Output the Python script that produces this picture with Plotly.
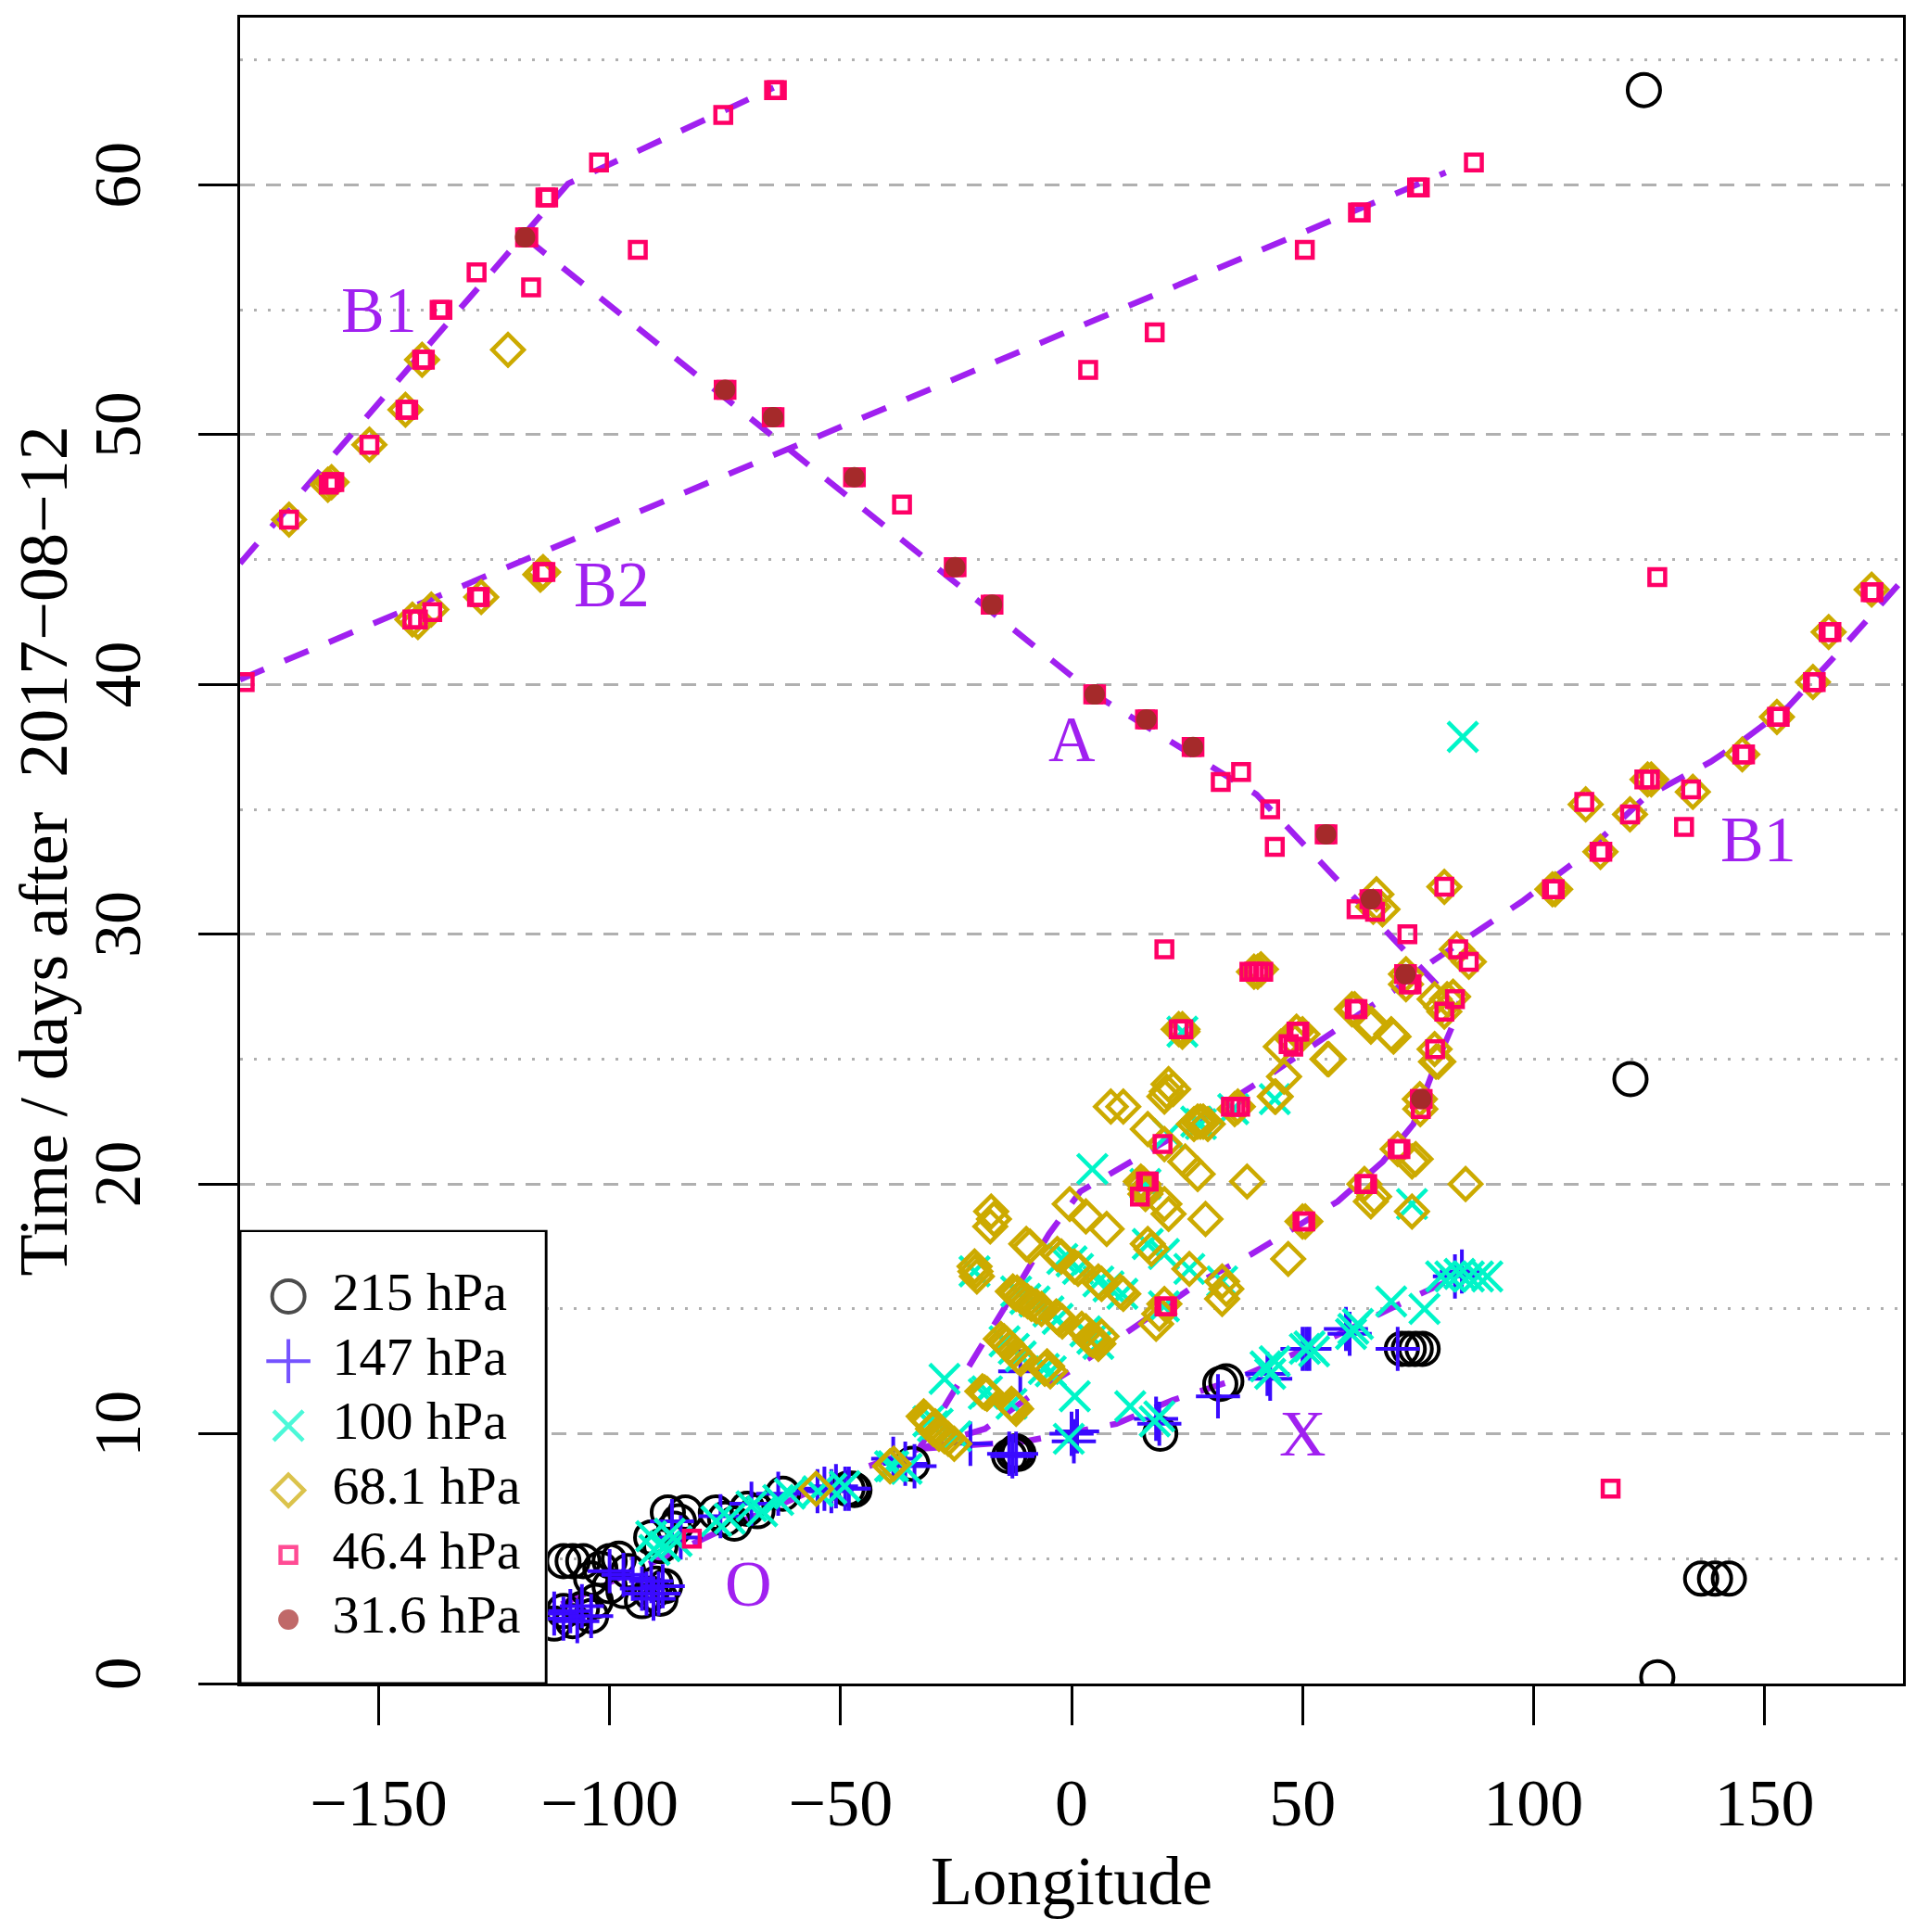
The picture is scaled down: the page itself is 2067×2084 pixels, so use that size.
import plotly.graph_objects as go

# ---------------- data (longitude, days after 2017-08-12) ----------------
pts_215 = [(-112,2.4),(-110,2.9),(-108,2.5),(-106,3.0),(-104,2.7),(-103,3.3),
           (-110,4.9),(-108,4.9),(-105.7,4.9),(-104,4.2),(-102,4.6),(-100,4.9),(-98,5.0),(-96,4.5),
           (-100,3.9),(-97,3.7),(-93,3.3),(-91,3.6),(-89,3.4),(-88,3.9),(-90,4.0),
           (-91,5.85),(-89,5.5),(-87.4,6.85),(-85,6.5),(-83.6,6.85),(-86,6.2),
           (-77,6.85),(-75,6.6),(-73,6.4),(-70.2,7.0),(-68,6.9),(-62.5,7.6),
           (-48.5,7.8),(-47.5,7.8),(-47,7.75),(-34.5,8.8),
           (-13.5,9.1),(-12.5,9.2),(-11.5,9.2),(-12,9.3),
           (19.2,10.0),(32.2,12.0),(33.5,12.1),
           (71.5,13.4),(73,13.4),(74.5,13.4),(76,13.4),
           (121,24.2),(123.9,63.8),(126.8,0.25),(136.3,4.2),(139.3,4.2),(142.3,4.2)]

pts_147 = [(-112,2.8),(-110,2.6),(-108.5,2.9),(-107,2.5),(-106,3.1),(-104,2.7),
           (-100,4.5),(-97,4.35),(-95,4.2),
           (-93,3.8),(-92,3.6),(-90.5,3.4),(-89.4,3.6),(-88.5,3.9),(-91,4.1),
           (-86.5,6.5),(-84.6,5.85),(-76,6.7),(-69.3,7.2),(-63.5,7.6),
           (-55,7.7),(-53.5,7.8),(-52,7.7),(-51,7.9),(-49,7.8),(-48.2,7.8),
           (-38.6,9.0),(-36,8.8),(-34,8.7),(-21.9,9.6),(-11.1,12.5),
           (-13.5,9.2),(-12.8,9.1),(-12,9.2),(0,10.0),(0.5,9.7),(1.2,10.1),
           (18.3,10.6),(19,10.4),(31.7,11.5),(42.4,12.4),(43,12.2),
           (50,13.4),(50.8,13.4),(51.5,13.4),(59.4,14.2),(60.2,14.0),
           (70.6,13.4),(83,16.3),(84.5,16.5)]

pts_100 = [(-90.3,5.35),(-88,5.5),(-85.5,5.7),(-87,6.0),(-91,5.9),
           (-76.9,6.5),(-74,6.6),(-69.3,7.1),(-67,6.9),(-63.5,7.35),(-61,7.6),
           (-54.9,7.7),(-52,7.8),(-49.1,7.9),(-38.6,8.7),(-35.7,8.6),
           (-27.5,12.2),(-0.6,9.8),(0.7,11.5),(12.7,11.1),(18,10.5),(19,10.7),
           (4.5,20.6),(42,12.7),(43,12.4),(44,12.9),(50.5,13.4),(51.5,13.5),(52.5,13.3),
           (60.5,14.0),(61,14.2),(62,14.4),(69.2,15.3),(76.4,15.0),
           (80,16.3),(82,16.3),(84,16.4),(86,16.3),(88,16.3),(90,16.3),
           (44,23.4),(73.7,19.2),(84.7,37.9),
           (-39.3,8.7),(-31,10.5),(-29,10.4),(-25,9.9),(-18.3,11.7),(-13,11.2),
           (-12.5,13.4),(-11,13.1),(-6,12.6),(-21,16.5),(-12,15.7),(-8,15.3),
           (-3,14.6),(3,14.1),(5.8,13.6),(-2,17.0),(1.4,16.6),(5.8,16.1),(11,15.6),
           (16.5,17.6),(20,17.2),(25.5,16.6),(32.6,16.1),(20,15.1),(16,20.0),
           (21,22),(24,26.1),(27,22.5),(35,23.0),
           (-14.5,13.7),(-10,15.4),(-5,14.9),(0,16.9),(8,15.9),(-30,10.3),(-19,11.6),
           (28,22.4),(-4.5,12.5),(4.5,13.8)]

pts_68 = [(-55.3,7.8),(-39.3,8.7),(-38.5,8.8),
          (-32.0,10.7),(-31.0,10.5),(-30.0,10.2),(-28.7,10.0),(-26.7,9.8),(-25.4,9.6),
          (-31.5,10.6),(-29.5,10.3),(-27.5,9.9),
          (-19.3,11.7),(-18.3,11.6),(-18.8,11.65),(-13.0,11.2),(-12.0,11.0),(-12.5,11.1),
          (-15.3,13.8),(-14.6,13.7),(-14.0,13.6),(-13.3,13.45),(-12.5,13.3),(-11.6,13.1),
          (-11.0,13.0),(-5.8,12.6),(-5.3,12.7),(-4.6,12.5),
          (-17.4,18.9),(-16.8,18.6),(-17.6,18.3),(-21.0,16.7),(-20.8,16.5),(-20.5,16.3),
          (-9.8,17.6),(-9.0,17.5),(-3.1,17.2),(-2.2,17.1),(1.4,16.6),(0.6,16.7),
          (5.8,16.1),(6.5,16.0),(11.2,15.6),(10.5,15.7),
          (-12.7,15.7),(-12.0,15.6),(-11.8,15.65),(-11.0,15.5),(-10.3,15.4),(-9.5,15.3),
          (-8.7,15.2),(-7.6,15.1),(-6.5,15.0),(-3.3,14.7),(-2.7,14.6),(-2.0,14.5),
          (3.1,14.1),(2.2,14.2),(4.0,13.8),(4.6,13.75),(5.4,13.7),(5.8,13.6),(6.5,13.9),
          (-0.4,19.2),(3.1,18.7),(7.6,18.2),
          (15.6,20.0),(15.0,20.1),(16.0,19.6),(16.0,19.8),(20.1,19.2),(21.0,18.8),(29.0,18.6),
          (16.5,17.6),(17.3,17.4),(25.5,16.6),(32.6,16.1),(32.6,15.4),(33.5,15.8),
          (20.1,15.2),(18.3,14.4),(19.0,14.8),(8.5,23.1),(11.2,23.1),
          (21.0,24.0),(20.1,23.5),(20.6,23.7),(22.0,23.8),(16.5,22.2),(20.1,21.6),
          (27.3,22.5),(27.9,22.5),(28.5,22.5),(29.5,22.4),(26.5,22.4),(24.6,20.9),(27.3,20.4),
          (38.0,20.1),(35.3,23.0),(36.0,23.1),(46.9,17.0),
          (44.2,23.5),(46.0,24.3),(44.0,23.5),(47.8,25.8),(48.7,26.1),(50.0,26.0),(45.3,25.5),
          (55.4,25.0),(55.7,25.0),(64.8,26.3),(69.2,26.0),(65.0,26.4),(69.7,25.9),
          (50.0,18.5),(50.6,18.5),(63.4,20.0),(64.8,19.3),(65.5,19.5),(73.7,18.9),
          (70.6,21.4),(73.7,20.9),(74.5,21.0),(75.4,23.4),(75.5,23.0),
          (78.6,25.4),(78.9,24.9),(79.4,24.9),(85.3,20.0),
          (80.0,27.1),(80.7,26.9),(81.3,27.4),(82.6,27.5),(78.6,27.4),
          (61.3,27.0),(60.7,27.0),(23.2,26.2),(24.0,26.1),(24.0,26.2),
          (39.5,28.5),(40.3,28.5),(41.0,28.6),(65.3,31.1),(66.0,31.6),(67.3,31.0),
          (72.4,28.4),(72.4,28.0),(80.7,31.9),(83.4,29.4),(86.0,28.9),
          (104.1,31.8),(104.7,31.8),(114.5,33.3),(120.9,34.8),(111.3,35.2),(124.7,36.2),
          (125.5,36.2),(134.5,35.7),(145.2,37.2),(152.7,38.7),(160.5,40.1),(163.9,42.1),
          (173.2,43.8),(-122.0,53.4),
          (-140.6,53.0),(-144.2,51.0),(-152.0,49.6),(-160.2,48.1),(-161.0,48.0),(-169.4,46.6),
          (-142.7,42.6),(-141.5,42.5),(-138.6,43.0),(-127.8,43.5),(-114.4,44.5),(-115.0,44.4)]

pts_46 = [(-169.4,46.6),(-160.2,48.1),(-159.6,48.1),(-160.8,48.0),(-152,49.6),
          (-144.2,51.0),(-143.6,51.0),(-140.6,53.0),(-140,53.0),(-136.8,55.0),(-136.2,55.0),
          (-128.8,56.5),(-117,55.9),(-118.3,57.9),(-117.6,57.9),(-113.9,59.5),(-113.3,59.5),
          (-102.3,60.9),(-93.9,57.4),(-75.4,62.8),(-64.4,63.8),(-63.8,63.8),
          (-75.3,51.8),(-74.7,51.8),(-64.9,50.7),(-64.3,50.7),(-47.3,48.3),(-46.7,48.3),
          (-25.5,44.7),(-24.9,44.7),(-17.5,43.2),(-16.9,43.2),(4.7,39.6),(5.3,39.6),
          (15.9,38.6),(16.5,38.6),(26,37.5),(26.6,37.5),(54.8,34.0),(55.4,34.0),
          (64.5,31.4),(65.1,31.4),(72,28.4),(72.6,28.4),(75.4,23.4),(76,23.4),
          (-142.7,42.6),(-141.5,42.6),(-138.4,42.9),(-128.1,43.5),(-128.7,43.5),
          (-113.9,44.5),(-114.5,44.5),(-179,40.1),
          (87.1,60.9),(74.8,59.9),(75.4,59.9),(62,58.9),(62.6,58.9),(50.5,57.4),
          (18,54.1),(3.6,52.6),(-36.7,47.2),(126.8,44.3),(116.7,7.8),
          (32.3,36.1),(36.7,36.5),(43,35.0),(44,33.5),(61.7,31.0),(65.7,30.9),(72.7,30.0),
          (20.1,29.4),(38.5,28.5),(39.5,28.5),(40.5,28.5),(41.5,28.5),(61.3,27.0),(61.9,27.0),
          (80.7,31.9),(83.7,29.4),(86,28.9),(73,28.0),(73.6,28.0),(83,27.4),(80.7,26.9),
          (78.7,25.4),(48.7,26.1),(49.3,26.1),(48,25.5),(47,25.6),(34.5,23.1),(35.5,23.1),
          (36.5,23.1),(75.6,23.0),(23.2,26.2),(24.2,26.2),(19.7,21.6),(16.1,20.1),(16.7,20.1),
          (14.8,19.5),(20.1,15.1),(20.7,15.1),(50,18.5),(50.6,18.5),(63.4,20.0),(64,20.0),
          (70.6,21.4),(71.2,21.4),(-82.2,5.8),
          (104,31.8),(104.6,31.8),(114.3,33.3),(114.9,33.3),(120.9,34.8),(111,35.3),
          (124,36.2),(125.2,36.2),(132.6,34.3),(134.1,35.8),(145.2,37.2),(145.8,37.2),
          (152.7,38.7),(153.3,38.7),(160.5,40.1),(161.1,40.1),(163.9,42.1),(164.5,42.1),
          (173,43.7),(173.6,43.7)]

pts_31 = [(-118.3,57.9),(-75,51.8),(-64.6,50.7),(-47,48.3),(-25.2,44.7),(-17.2,43.2),
          (5,39.6),(16.2,38.6),(26.3,37.5),(55.1,34.0),(64.8,31.4),(72.3,28.4),(75.7,23.4)]

# fitted tracks (dashed purple)
track_B1_west = [(-180,44.85),(-109,60.05),(-64.5,63.9)]
track_B2 = [(-180,40.2),(81,60.5)]
track_A = [(-118.3,57.9),(5,39.6),(40,35.6),(79.5,27.9)]
track_O = [(-120,2.4),(-104,3.7),(-75,6.2),(-44,8.7),(-33,9.4)]
track_X = [(-33,9.4),(-10,9.7),(9.7,10.4),(21.9,11.35),(34.4,12.1),(55.8,13.8),(75.5,15.6),(86,16.5)]
track_Q = [(-33,9.4),(-18.7,10.2),(-8.3,11.6),(0.4,12.6),(10.7,13.9),(28,16.1),(39,17.2),
           (57.6,19.3),(67.4,20.9),(74,22.4),(78,24.4),(82.6,26.4),(84,27.3)]
track_B1_east = [(-33,9.4),(-23.3,12.3),(-17.3,14.2),(-10.7,16.2),(-4.9,18),(1.9,19.7),(13,20.9),
                 (23,22),(40.7,24.1),(60,26.5),(68.7,27.6),(78,28.9),(88.7,30.2),(97.4,31.3),
                 (109.7,33),(124.3,35.5),(138.3,36.9),(145.6,37.8),(155.1,39.1),(164.6,41),(180,44.2)]

labels = [("B1", -150, 55.0), ("B2", -99.6, 44.0), ("A", 0, 37.8),
          ("B1", 148.7, 33.8), ("X", 50, 10.0), ("O", -70, 4.0)]

levels = ["215 hPa", "147 hPa", "100 hPa", "68.1 hPa", "46.4 hPa", "31.6 hPa"]
x_ticks = [-150, -100, -50, 0, 50, 100, 150]
y_ticks = [0, 10, 20, 30, 40, 50, 60]
y_minor = [5, 15, 25, 35, 45, 55, 65]

# ---------------- styles ----------------
FONT = "Liberation Serif"
PURPLE = "#A020F0"
styles = [
    dict(symbol="circle-open", color="black", size=35, lw=4),
    dict(symbol="cross-thin-open", color="#3A0AFF", size=34, lw=4),
    dict(symbol="x-thin-open", color="#00F5C8", size=32, lw=4.5),
    dict(symbol="diamond-open", color="#CCAA00", size=26, lw=4.5),
    dict(symbol="square-open", color="#FF0066", size=17, lw=4.5),
    dict(symbol="circle", color="#A52A2A", size=22, lw=0),
]
series = [pts_215, pts_147, pts_100, pts_68, pts_46, pts_31]

fig = go.Figure()

for tr in [track_B1_west, track_B2, track_A, track_O, track_X, track_Q, track_B1_east]:
    fig.add_trace(go.Scatter(x=[p[0] for p in tr], y=[p[1] for p in tr], mode="lines",
                             line=dict(color=PURPLE, width=6.5, dash="28px,24px"),
                             showlegend=False, hoverinfo="skip"))

for pts, st, name in zip(series, styles, levels):
    fig.add_trace(go.Scatter(
        x=[p[0] for p in pts], y=[p[1] for p in pts], mode="markers", name=name,
        showlegend=False,
        marker=dict(symbol=st["symbol"], size=st["size"], color=st["color"],
                    line=dict(color=st["color"], width=st["lw"]))))

# legend drawn in an inset subplot
fig.add_trace(go.Scatter(
    x=[0.157] * len(levels), y=list(range(len(levels))), mode="markers",
    xaxis="x2", yaxis="y2", showlegend=False, hoverinfo="skip",
    marker=dict(symbol=[s["symbol"] for s in styles], size=[s["size"] for s in styles],
                color=[s["color"] for s in styles],
                line=dict(color=[s["color"] for s in styles], width=[s["lw"] for s in styles]))))
fig.add_trace(go.Scatter(
    x=[0.30] * len(levels), y=list(range(len(levels))), mode="text", text=levels,
    textposition="middle right", xaxis="x2", yaxis="y2", showlegend=False, hoverinfo="skip",
    textfont=dict(family=FONT, size=58, color="black")))

fig.add_shape(type="rect", xref="x2", yref="y2", x0=0.0, x1=0.995, y0=5.99, y1=-1.02,
              fillcolor="white", line=dict(color="black", width=3), layer="below")

for txt, lx, ly in labels:
    fig.add_annotation(x=lx, y=ly, xref="x", yref="y", text=txt, showarrow=False,
                       font=dict(family=FONT, size=70, color=PURPLE))

fig.add_annotation(x=0.5, y=-0.1188, xref="paper", yref="paper", text="Longitude",
                   showarrow=False, font=dict(family=FONT, size=74, color="black"),
                   xanchor="center", yanchor="middle")
fig.add_annotation(x=-0.1182, y=0.5, xref="paper", yref="paper",
                   text="Time / days after  2017\u221208\u221212", textangle=-90,
                   showarrow=False, font=dict(family=FONT, size=74, color="black"),
                   xanchor="center", yanchor="middle")

grid_col = "#B0B0B0"
fig.update_layout(
    width=2067, height=2084,
    margin=dict(l=259, r=14, t=19, b=268),
    paper_bgcolor="white", plot_bgcolor="white",
    font=dict(family=FONT, size=72, color="black"),
    xaxis=dict(range=[-180, 180], domain=[0, 1], tickvals=x_ticks,
               ticktext=[str(v).replace("-", "\u2212") for v in x_ticks],
               ticks="outside", ticklen=42, tickwidth=3, tickcolor="black",
               showline=True, linewidth=3, linecolor="black", mirror=True,
               showgrid=False, zeroline=False, ticklabelstandoff=22,
               tickfont=dict(family=FONT, size=72)),
    yaxis=dict(range=[0, 66.7], domain=[0, 1], tickvals=y_ticks,
               ticktext=[str(v) for v in y_ticks], tickangle=-90,
               ticks="outside", ticklen=42, tickwidth=3, tickcolor="black",
               showline=True, linewidth=3, linecolor="black", mirror=True,
               showgrid=True, gridcolor=grid_col, gridwidth=3, griddash="16px,12px",
               zeroline=False, ticklabelstandoff=34,
               tickfont=dict(family=FONT, size=72),
               minor=dict(tickvals=y_minor, showgrid=True, gridcolor=grid_col,
                          gridwidth=3, griddash="3px,12px", ticks="")),
    xaxis2=dict(domain=[0, 0.185], range=[0, 1], anchor="y2", visible=False,
                fixedrange=True),
    yaxis2=dict(domain=[0, 0.2723], range=[5.99, -1.03], anchor="x2", visible=False,
                fixedrange=True),
)

fig.write_html("out.html", config={"displayModeBar": False},
               post_script="document.body.style.margin='0px';")
